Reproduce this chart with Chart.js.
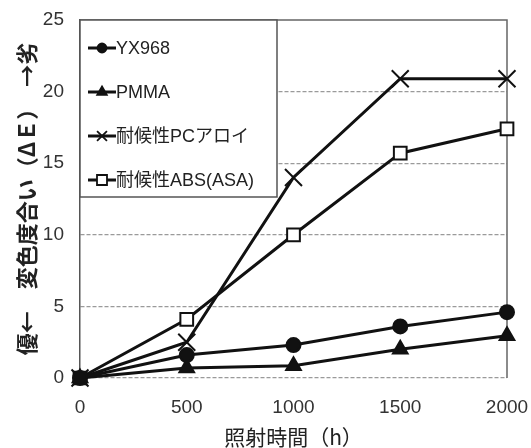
<!DOCTYPE html>
<html>
<head>
<meta charset="utf-8">
<script src="https://cdn.jsdelivr.net/npm/chart.js@4/dist/chart.umd.min.js"></script>
<style>
  html, body { margin: 0; padding: 0; background: #fff; }
  #wrap { width: 531px; height: 448px; }
</style>
</head>
<body>
<div id="wrap"><canvas id="chart" width="531" height="448"></canvas></div>
<script>
// data
const hours = ['0', '500', '1000', '1500', '2000'];
const yx968 = [0, 1.6, 2.3, 3.6, 4.6];
const pmma = [0, 0.7, 0.85, 2.0, 2.95];
const pcAlloy = [0, 2.5, 14.0, 20.9, 20.9];
const absAsa = [0, 4.1, 10.0, 15.7, 17.4];
const seriesNames = ['YX968', 'PMMA', '耐候性PCアロイ', '耐候性ABS(ASA)'];
const yTicks = [0, 5, 10, 15, 20, 25];

const FONT = '"Liberation Sans", "Noto Sans CJK JP", sans-serif';

// marker look per series
const styles = [
    { pointStyle: 'circle', pointRadius: 7, bg: '#111' },
    { pointStyle: 'triangle', pointRadius: 8.5, bg: '#111' },
    { pointStyle: 'crossRot', pointRadius: 12, bg: '#111' },
    { pointStyle: 'rect', pointRadius: 9, bg: '#fff' }
];

const datasets = [yx968, pmma, pcAlloy, absAsa].map((vals, i) => ({
    label: seriesNames[i],
    data: vals,
    borderColor: '#111',
    borderWidth: 3,
    backgroundColor: styles[i].bg,
    pointStyle: styles[i].pointStyle,
    pointRadius: styles[i].pointRadius,
    pointBorderWidth: 2,
    pointBorderColor: '#111',
    pointBackgroundColor: styles[i].bg,
    tension: 0,
    clip: false
}));

// draw top + right edges of the plot frame
const frame = {
    id: 'frame',
    beforeDatasetsDraw(chart) {
        const a = chart.chartArea, ctx = chart.ctx;
        ctx.save();
        ctx.strokeStyle = '#666';
        ctx.lineWidth = 1.5;
        ctx.beginPath();
        ctx.moveTo(a.left, a.top);
        ctx.lineTo(a.right, a.top);
        ctx.lineTo(a.right, a.bottom);
        ctx.stroke();
        ctx.restore();
    }
};

// legend box inside the plot, top-left
function marker(ctx, style, x, y, r) {
    ctx.beginPath();
    if (style === 'circle') {
        ctx.arc(x, y, r, 0, Math.PI * 2);
        ctx.fill(); ctx.stroke();
    } else if (style === 'triangle') {
        ctx.moveTo(x, y - r);
        ctx.lineTo(x + r * 0.866, y + r * 0.5);
        ctx.lineTo(x - r * 0.866, y + r * 0.5);
        ctx.closePath();
        ctx.fill(); ctx.stroke();
    } else if (style === 'crossRot') {
        const o = r * 0.707;
        ctx.moveTo(x - o, y - o); ctx.lineTo(x + o, y + o);
        ctx.moveTo(x + o, y - o); ctx.lineTo(x - o, y + o);
        ctx.stroke();
    } else {
        ctx.rect(x - r, y - r, r * 2, r * 2);
        ctx.fill(); ctx.stroke();
    }
}

const boxLegend = {
    id: 'boxLegend',
    afterDraw(chart) {
        const ctx = chart.ctx, a = chart.chartArea;
        const x0 = a.left, y0 = a.top, w = 197, h = 177;
        ctx.save();
        ctx.fillStyle = '#fff';
        ctx.fillRect(x0, y0, w, h);
        ctx.strokeStyle = '#555';
        ctx.lineWidth = 1.5;
        ctx.strokeRect(x0, y0, w, h);
        chart.data.datasets.forEach((ds, i) => {
            const cy = y0 + 28 + i * 44;
            ctx.strokeStyle = '#111';
            ctx.lineWidth = 3;
            ctx.beginPath();
            ctx.moveTo(x0 + 8, cy);
            ctx.lineTo(x0 + 36, cy);
            ctx.stroke();
            ctx.lineWidth = 1.8;
            ctx.fillStyle = ds.pointBackgroundColor;
            const small = { circle: 4.5, triangle: 5.5, crossRot: 7, rect: 5 }[ds.pointStyle];
            marker(ctx, ds.pointStyle, x0 + 22, cy, small);
            ctx.fillStyle = '#222';
            ctx.font = '18px ' + FONT;
            ctx.textBaseline = 'middle';
            ctx.fillText(ds.label, x0 + 36, cy + 1);
        });
        ctx.restore();
    }
};

new Chart(document.getElementById('chart'), {
    type: 'line',
    data: { labels: hours, datasets: datasets },
    options: {
        responsive: false,
        animation: false,
        layout: { padding: { left: 0, right: 24, top: 20, bottom: 0 } },
        plugins: {
            legend: { display: false },
            tooltip: { enabled: false }
        },
        scales: {
            x: {
                offset: false,
                afterFit(scale) {
                    scale.height = 70;
                    scale.paddingLeft = 0;
                    scale.paddingRight = 0;
                },
                grid: { display: false, drawTicks: false },
                border: { display: false },
                ticks: {
                    color: '#333',
                    padding: 18,
                    maxRotation: 0,
                    font: { family: FONT, size: 19 }
                },
                title: {
                    display: true,
                    text: '照射時間（h）',
                    color: '#222',
                    padding: { top: 0, bottom: 0 },
                    font: { family: '"Noto Sans CJK JP", sans-serif', size: 21, lineHeight: 1 }
                }
            },
            y: {
                min: yTicks[0],
                max: yTicks[yTicks.length - 1],
                afterFit(scale) {
                    scale.width = 80;
                    scale.paddingTop = 0;
                    scale.paddingBottom = 0;
                },
                afterBuildTicks(scale) { scale.ticks = yTicks.map(v => ({ value: v })); },
                grid: {
                    drawTicks: false,
                    color: ctx => ctx.tick && ctx.tick.value === 25 ? 'rgba(0,0,0,0)' : '#9a9a9a',
                    lineWidth: 1.2
                },
                border: { display: true, color: '#555', width: 1.5, dash: [4, 2] },
                ticks: {
                    color: '#333',
                    padding: 16,
                    font: { family: FONT, size: 19 }
                },
                title: {
                    display: true,
                    text: '優←　変色度合い（ΔＥ）　→劣',
                    color: '#222',
                    padding: { top: 16, bottom: 0 },
                    font: { family: '"Noto Sans CJK JP", sans-serif', size: 22, weight: 'bold', lineHeight: 1 }
                }
            }
        }
    },
    plugins: [frame, boxLegend]
});
</script>
</body>
</html>
